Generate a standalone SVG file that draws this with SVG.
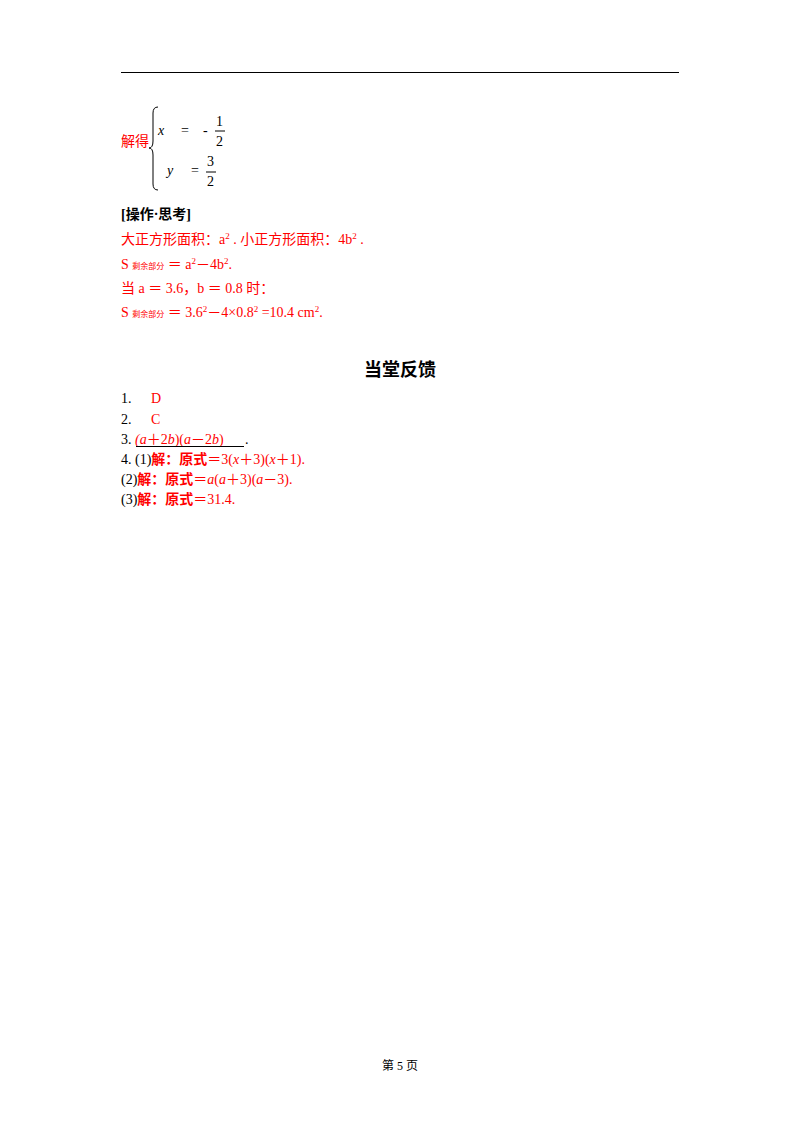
<svg xmlns="http://www.w3.org/2000/svg" width="800" height="1132" viewBox="0 0 800 1132">
<style>
text{font-family:"Liberation Serif","Noto Sans CJK SC",serif;font-size:14px;fill:#000}
.r{fill:#f00}
.i{font-style:italic}
.b{font-weight:bold}
.s{font-size:8px}
.sup{font-size:9px}
</style>
<rect width="800" height="1132" fill="#fff"/>
<line x1="121" y1="72.5" x2="679" y2="72.5" stroke="#000" stroke-width="1.2"/>
<g id="solution">
<text x="121" y="146" class="r">解得</text>
<path d="M158 107 Q153 107 153 113 L153 141 Q153 148 149 148 Q153 148 153 155 L153 184 Q153 190 158 190" fill="none" stroke="#000" stroke-width="1"/>
<text x="158" y="135" class="i">x</text>
<text x="181" y="135">=</text>
<text x="203" y="135">-</text>
<text x="216" y="126">1</text>
<line x1="215" y1="131" x2="225" y2="131" stroke="#000"/>
<text x="216" y="146">2</text>
<text x="167" y="175" class="i">y</text>
<text x="191" y="175">=</text>
<text x="207" y="166">3</text>
<line x1="206" y1="172" x2="216" y2="172" stroke="#000"/>
<text x="207" y="186">2</text>
</g>
<g id="think">
<text x="121" y="219" class="b">[操作·思考]</text>
<text x="121" y="244" class="r">大正方形面积：a<tspan class="sup" dy="-5">2</tspan><tspan dy="5"> .      小正方形面积：4b</tspan><tspan class="sup" dy="-5">2</tspan><tspan dy="5"> .</tspan></text>
<text x="121" y="269" class="r">S <tspan class="s">剩余部分</tspan> ＝ a<tspan class="sup" dy="-5">2</tspan><tspan dy="5">－4b</tspan><tspan class="sup" dy="-5">2</tspan><tspan dy="5">.</tspan></text>
<text x="121" y="293" class="r">当 a ＝ 3.6，b ＝ 0.8 时：</text>
<text x="121" y="317" class="r">S <tspan class="s">剩余部分</tspan> ＝ 3.6<tspan class="sup" dy="-5">2</tspan><tspan dy="5">－4×0.8</tspan><tspan class="sup" dy="-5">2</tspan><tspan dy="5"> =10.4  cm</tspan><tspan class="sup" dy="-5">2</tspan><tspan dy="5">.</tspan></text>
</g>
<text x="400" y="376" text-anchor="middle" class="b" style="font-size:18px">当堂反馈</text>
<g id="feedback">
<text x="121" y="403">1.</text><text x="151" y="403" class="r">D</text>
<text x="121" y="424">2.</text><text x="151" y="424" class="r">C</text>
<text x="121" y="444">3. <tspan class="r i">(a</tspan><tspan class="r">＋2</tspan><tspan class="r i">b</tspan><tspan class="r">)(</tspan><tspan class="r i">a</tspan><tspan class="r">－2</tspan><tspan class="r i">b</tspan><tspan class="r">)</tspan></text>
<line x1="136" y1="446.5" x2="244" y2="446.5" stroke="#000"/>
<text x="245" y="444">.</text>
<text x="121" y="464">4. (1)<tspan class="r b">解：原式</tspan><tspan class="r">＝3(</tspan><tspan class="r i">x</tspan><tspan class="r">＋3)(</tspan><tspan class="r i">x</tspan><tspan class="r">＋1).</tspan></text>
<text x="121" y="484">(2)<tspan class="r b">解：原式</tspan><tspan class="r">＝</tspan><tspan class="r i">a</tspan><tspan class="r">(</tspan><tspan class="r i">a</tspan><tspan class="r">＋3)(</tspan><tspan class="r i">a</tspan><tspan class="r">－3).</tspan></text>
<text x="121" y="504">(3)<tspan class="r b">解：原式</tspan><tspan class="r">＝31.4.</tspan></text>
</g>
<text x="400" y="1070" text-anchor="middle" style="font-size:12px">第 5 页</text>
</svg>
